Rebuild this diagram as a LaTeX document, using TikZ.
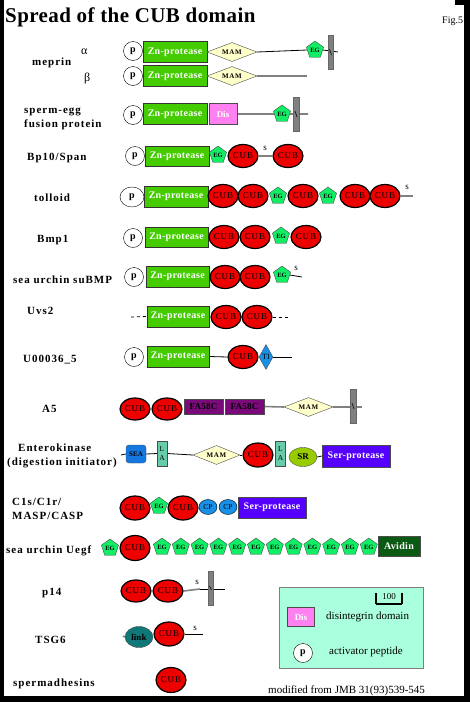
\documentclass[tikz,border=0pt]{standalone}
\usepackage{fontspec}
\setmainfont{Liberation Serif}
\newfontfamily\labfont[LetterSpace=9]{Liberation Serif}
\newfontfamily\znfont[LetterSpace=3]{Liberation Serif}
\newfontfamily\cubfont[LetterSpace=10]{Liberation Serif}
\newfontfamily\titlefont[LetterSpace=2]{Liberation Serif}
\usetikzlibrary{shapes.geometric}
\pgfdeclarelayer{back}
\pgfsetlayers{back,main}
\definecolor{zngreen}{HTML}{44CC00}
\definecolor{eggreen}{HTML}{11EE66}
\definecolor{cubred}{HTML}{EE0000}
\definecolor{mamyellow}{HTML}{FFFFCC}
\definecolor{tmgray}{HTML}{808080}
\definecolor{dispink}{HTML}{FF80F0}
\definecolor{cpblue}{HTML}{1890E8}
\definecolor{seablue}{HTML}{1478E0}
\definecolor{fapurple}{HTML}{7A0A7A}
\definecolor{lagreen}{HTML}{66CCAA}
\definecolor{srgreen}{HTML}{99CC00}
\definecolor{serblue}{HTML}{5500FF}
\definecolor{avgreen}{HTML}{0A5A14}
\definecolor{linkteal}{HTML}{107878}
\definecolor{legbg}{HTML}{AAFFDD}
\tikzset{
  lab/.style={font=\labfont\bfseries\fontsize{11}{13}\selectfont, anchor=base west, inner sep=0},
  greek/.style={font=\fontsize{12}{14}\selectfont, anchor=base west, inner sep=0},
  pcirc/.style={circle, draw, fill=white, minimum size=19, inner sep=0, font=\bfseries\fontsize{10}{12}\selectfont},
  zn/.style={draw=black!80, fill=zngreen, minimum width=64, minimum height=21, inner sep=0, text=white, font=\znfont\bfseries\fontsize{10}{12}\selectfont},
  mam/.style={diamond, aspect=2.6, draw=black!70, fill=mamyellow, minimum width=50, minimum height=19, inner sep=0, font=\cubfont\bfseries\fontsize{7}{8}\selectfont},
  eg/.style={regular polygon, regular polygon sides=5, draw=black!70, fill=eggreen, minimum size=18, inner sep=0, font=\bfseries\fontsize{6.5}{7}\selectfont},
  cub/.style={ellipse, draw=black, line width=1.2, fill=cubred, minimum width=30, minimum height=23, inner sep=0, font=\cubfont\fontsize{9}{11}\selectfont},
  tmbar/.style={draw=black!60, fill=tmgray, minimum width=5, minimum height=34, inner sep=0},
  disbox/.style={draw=black!70, fill=dispink, minimum width=28, minimum height=21, inner sep=0, text=white, font=\bfseries\fontsize{9}{10}\selectfont},
  fabox/.style={draw=black!70, fill=fapurple, minimum width=39, minimum height=15, inner sep=0, font=\znfont\bfseries\fontsize{9}{10}\selectfont},
  labox/.style={draw=black!70, fill=lagreen, minimum width=10, minimum height=25, inner sep=0, align=center, font=\fontsize{7.5}{9}\selectfont},
  serbox/.style={draw=black!70, fill=serblue, minimum width=68, minimum height=21, inner sep=0, text=white, font=\znfont\bfseries\fontsize{10}{12}\selectfont},
  cp/.style={ellipse, draw=black, fill=cpblue, minimum width=18, minimum height=15, inner sep=0, font=\fontsize{7.5}{9}\selectfont},
  sline/.style={font=\fontsize{9}{10}\selectfont, inner sep=0},
  gline/.style={draw=tmgray, line width=1.6},
  bline/.style={draw=black, line width=0.8},
}
\begin{document}
\begin{tikzpicture}[x=1pt,y=-1pt]
\useasboundingbox (0,0) rectangle (470,702);
\begin{pgfonlayer}{back}
\fill[black] (0,0) rectangle (470,702);
\fill[white] (4,0) rectangle (464,696);
\fill[black] (455,0) rectangle (470,5);
\end{pgfonlayer}

% title
\node[anchor=base west, inner sep=0, font=\titlefont\bfseries\fontsize{21}{24}\selectfont] (title) at (5,22) {Spread of the CUB domain};
\node[anchor=base west, inner sep=0, font=\fontsize{10}{12}\selectfont] (fig) at (442,23) {Fig.5};

% meprin
\node[lab] (tMeprin) at (32,65) {meprin};
\node[greek] (tAlpha) at (81,54) {α};
\node[greek] (tBeta) at (84,81) {β};
\node[pcirc] (pA) at (133,51) {p};
\node[zn] (znA) at (175,52) {Zn-protease};
\node[mam] (mamA) at (232,52) {MAM};
\node[tmbar] (barA) at (330.5,52) {};
\node[eg] (egA) at (315,50) {EG};
\coordinate (eA) at (338,52);
\node[pcirc] (pB) at (133,76) {p};
\node[zn] (znB) at (175,76) {Zn-protease};
\node[mam] (mamB) at (232,76) {MAM};
\coordinate (eB) at (307,76);

% sperm-egg
\node[lab] (tSperm) at (24,113) {sperm-egg};
\node[lab] (tFusion) at (24,127) {fusion protein};
\node[pcirc] (pS) at (133,115) {p};
\node[zn] (znS) at (175,114) {Zn-protease};
\node[disbox] (disS) at (223,114) {Dis};
\node[tmbar, minimum width=6] (barS) at (296,114) {};
\node[eg] (egS) at (282,114) {EG};
\coordinate (eS) at (308,114);

% Bp10
\node[lab] (tBp) at (27,160) {Bp10/Span};
\node[pcirc] (pP) at (135,156) {p};
\node[zn, minimum height=20] (znP) at (177,156) {Zn-protease};
\node[eg] (egP) at (218,155) {EG};
\node[cub] (cubP1) at (243,156) {CUB};
\node[cub] (cubP2) at (288,156) {CUB};
\node[sline] (sP) at (265,148) {s};

% tolloid
\node[lab] (tTol) at (34,201) {tolloid};
\node[pcirc, ellipse, minimum width=24, minimum height=20] (pT) at (132,197) {p};
\node[zn] (znT) at (176,196.5) {Zn-protease};
\node[cub] (cubT1) at (223,196) {CUB};
\node[cub] (cubT2) at (253,196) {CUB};
\node[eg] (egT1) at (278,196) {EG};
\node[cub] (cubT3) at (303,196) {CUB};
\node[eg] (egT2) at (328,196) {EG};
\node[cub] (cubT4) at (355,196) {CUB};
\node[cub] (cubT5) at (385,196) {CUB};
\coordinate (eT) at (413,196);
\node[sline] (sT) at (407,187) {s};

% Bmp1
\node[lab] (tBmp) at (37,242) {Bmp1};
\node[pcirc] (pM) at (133,238) {p};
\node[zn, minimum width=63, minimum height=20] (znM) at (176.5,237) {Zn-protease};
\node[cub] (cubM1) at (224,237) {CUB};
\node[cub] (cubM2) at (255,237) {CUB};
\node[eg] (egM) at (281,236) {EG};
\node[cub] (cubM3) at (306,237) {CUB};

% suBMP
\node[lab] (tSu) at (13,283) {sea urchin suBMP};
\node[pcirc] (pU) at (134,277) {p};
\node[zn, minimum width=63] (znU) at (177.5,276.5) {Zn-protease};
\node[cub] (cubU1) at (225,277) {CUB};
\node[cub] (cubU2) at (255,277) {CUB};
\node[eg] (egU) at (282,275) {EG};
\coordinate (eU) at (302,277);
\node[sline] (sU) at (296,268) {s};

% Uvs2
\node[lab] (tUvs) at (27,314) {Uvs2};
\coordinate (uvL) at (131,317);
\node[zn, minimum width=62] (znV) at (178,316.5) {Zn-protease};
\node[cub] (cubV1) at (226,317) {CUB};
\node[cub] (cubV2) at (257,317) {CUB};
\coordinate (uvR) at (288,317);

% U00036_5
\node[lab] (tU) at (23,362) {U00036\_5};
\node[pcirc] (pX) at (134,357) {p};
\node[zn, minimum width=62] (znX) at (178,356.5) {Zn-protease};
\node[cub] (cubX) at (243,357) {CUB};
\node[diamond, aspect=0.55, draw=black!70, fill=cpblue, minimum width=14, minimum height=25, inner sep=0, font=\fontsize{8}{9}\selectfont] (tiX) at (266,357) {TI};
\coordinate (eX) at (292,357);

% A5
\node[lab] (tA5) at (42,412) {A5};
\node[cub, minimum height=22] (cubA1) at (135,409) {CUB};
\node[cub, minimum height=22] (cubA2) at (167,409) {CUB};
\node[fabox] (faA1) at (203.5,406.5) {FA58C};
\node[fabox] (faA2) at (244.5,406.5) {FA58C};
\node[mam, minimum width=49] (mamA5) at (308.5,407) {MAM};
\node[tmbar, minimum width=6] (barA5) at (353,406) {};
\coordinate (eA5) at (362,407);

% Enterokinase
\node[lab] (tEnt) at (18,451) {Enterokinase};
\node[lab] (tDig) at (7,465) {(digestion initiator)};
\coordinate (entL) at (121,455);
\node[draw=black!70, fill=seablue, rounded corners=3, minimum width=20, minimum height=18, inner sep=0, font=\bfseries\fontsize{7}{8}\selectfont] (seaE) at (136,454) {SEA};
\node[labox] (laE1) at (162,453.5) {L\\A};
\node[mam, minimum width=47] (mamE) at (216.5,455) {MAM};
\node[cub, minimum height=24] (cubE) at (258,455) {CUB};
\node[labox] (laE2) at (280.5,453.5) {L\\A};
\node[ellipse, draw=black!70, fill=srgreen, minimum width=28, minimum height=19, inner sep=0, font=\bfseries\fontsize{9}{10}\selectfont] (srE) at (303,457) {SR};
\node[serbox, minimum height=22] (serE) at (356,456) {Ser-protease};

% C1s
\node[lab] (tC1) at (12,505) {C1s/C1r/};
\node[lab] (tMasp) at (12,519) {MASP/CASP};
\node[cub, minimum height=24] (cubC1) at (135,508) {CUB};
\node[eg] (egC) at (159,506) {EG};
\node[cub, minimum height=24] (cubC2) at (183,508) {CUB};
\node[cp] (cpC1) at (208,507) {CP};
\node[cp] (cpC2) at (228,507) {CP};
\node[serbox] (serC) at (272,507.5) {Ser-protease};

% Uegf
\node[lab] (tUegf) at (6,553) {sea urchin Uegf};
\node[eg] (egG0) at (110,548) {EG};
\node[cub, minimum height=25] (cubG) at (135,548) {CUB};
\foreach \i in {1,...,12}{
  \node[eg] (egG\i) at ({162+18.8*(\i-1)},547) {EG};
}
\node[draw=black!70, fill=avgreen, minimum width=42, minimum height=20, inner sep=0, text=white, font=\znfont\bfseries\fontsize{10}{12}\selectfont] (avG) at (399,546) {Avidin};

% p14
\node[lab] (tP14) at (42,595) {p14};
\node[cub, minimum height=22] (cubQ1) at (136,591) {CUB};
\node[cub, minimum height=22] (cubQ2) at (168,591) {CUB};
\coordinate (qM) at (200,589);
\node[tmbar] (barQ) at (210.5,588) {};
\coordinate (eQ) at (225,589);
\node[sline] (sQ) at (197,582) {s};

% TSG6
\node[lab] (tTsg) at (35,643) {TSG6};
\coordinate (tsL) at (123,636);
\node[ellipse, draw=black!70, fill=linkteal, minimum width=28, minimum height=21, inner sep=0, font=\bfseries\fontsize{9}{10}\selectfont] (linkT) at (139,637) {link};
\node[cub, minimum height=24] (cubTs) at (169,634) {CUB};
\coordinate (tsE) at (203,634);
\node[sline] (sTs) at (195,628) {s};

% spermadhesins
\node[lab] (tSpd) at (13,686) {spermadhesins};
\node[cub, minimum height=25] (cubSp) at (171,680) {CUB};

% legend
\begin{pgfonlayer}{back}
\node[draw=black!50, line width=1, fill=legbg, minimum width=144, minimum height=81, inner sep=0] (legend) at (351,627.5) {};
\end{pgfonlayer}
\coordinate (sc1) at (376,593);
\coordinate (sc2) at (376,604);
\coordinate (sc3) at (402,604);
\coordinate (sc4) at (402,593);
\draw[line width=2.5] (sc1) -- (sc2);
\draw[line width=2.5] (sc3) -- (sc4);
\draw[line width=1.2] (sc2) -- (sc3);
\node[font=\fontsize{9}{10}\selectfont, inner sep=0] (scl) at (389,597) {100};
\node[disbox, minimum width=27, minimum height=19] (disL) at (301,617) {Dis};
\node[anchor=west, inner sep=0, font=\fontsize{11}{13}\selectfont] (tDisL) at (326,617) {disintegrin domain};
\node[pcirc] (pL) at (303,653) {p};
\node[anchor=west, inner sep=0, font=\fontsize{11}{13}\selectfont] (tPL) at (329,652) {activator peptide};
\node[anchor=base west, inner sep=0, font=\fontsize{11}{13}\selectfont] (tMod) at (268,693) {modified from JMB 31(93)539-545};

% connectors
\begin{pgfonlayer}{back}
\draw[bline] (mamA.east) -- (egA.west);
\draw[bline] (egA.east) -- (eA);
\draw[gline] (mamB.east) -- (eB);
\draw[gline] (disS.east) -- (egS.west);
\draw[gline] (egS.east) -- (eS);
\draw[gline] (cubP1.east) -- (cubP2.west);
\draw[gline] (cubT5.east) -- (eT);
\draw[bline] (egU.east) -- (eU);
\draw[bline, dashed, dash pattern=on 3pt off 3pt] (uvL) -- (znV.west);
\draw[bline, dashed, dash pattern=on 3pt off 3pt] (cubV2.east) -- (uvR);
\draw[bline] (znX.east) -- (cubX.west);
\draw[bline] (tiX.east) -- (eX);
\draw[gline] (faA2.east) -- (mamA5.west);
\draw[gline] (mamA5.east) -- (eA5);
\draw[bline] (entL) -- (seaE.west);
\draw[bline] (seaE.east) -- (laE1.west);
\draw[bline] (laE1.east) -- (mamE.west);
\draw[bline] (mamE.east) -- (cubE.west);
\draw[bline] (srE.east) -- (serE.west);
\draw[gline] (cubQ2.east) -- (qM);
\draw[bline] (qM) -- (eQ);
\draw[gline] (tsL) -- (linkT.west);
\draw[bline] (cubTs.east) -- (tsE);
\end{pgfonlayer}
% small ticks inside TM bars
\draw[line width=0.6] ([shift={(-1,-3)}]barA.center) -- ([shift={(1,3)}]barA.center);
\draw[line width=0.6] ([shift={(-1,-3)}]barS.center) -- ([shift={(1,3)}]barS.center);
\draw[line width=0.6] ([shift={(-1,-3)}]barA5.center) -- ([shift={(1,3)}]barA5.center);
\draw[line width=0.6] ([shift={(-1,-2)}]barQ.center) -- ([shift={(1,2)}]barQ.center);
\end{tikzpicture}
\end{document}
